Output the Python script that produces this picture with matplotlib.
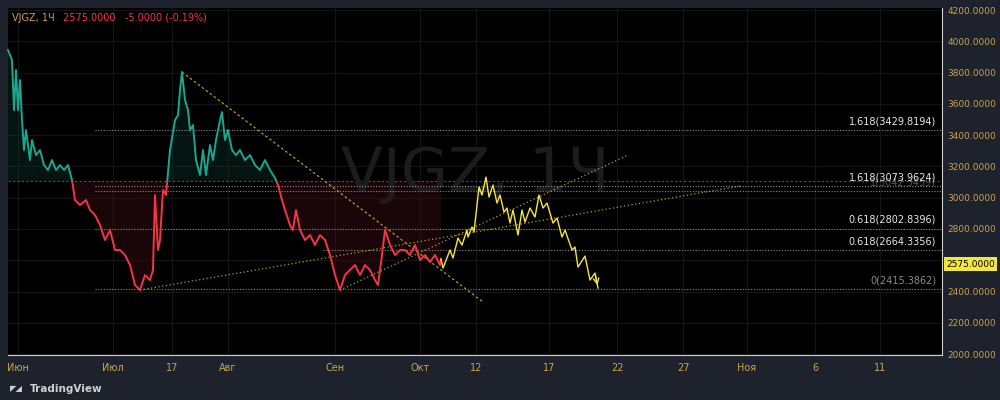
import matplotlib
matplotlib.use("Agg")
import matplotlib.pyplot as plt
from matplotlib.patches import Rectangle
import numpy as np

def p(y):  # helper to convert read pixel heights to prices
    return 4200 - (y - 10) * 2200 / 344

# price history (x = time position, y read as pixel rows then converted)
hist_x = [8,12,14,16,18,20,22,24,26,30,32,36,40,44,48,52,56,60,64,68,72,75,80,86,90,95,100,105,110,115,120,125,130,135,140,145,150,153,155,158,160,163,166,170,175,178,180,182,185,188,190,193,196,200,203,206,210,213,216,220,222,225,228,232,236,240,245,250,255,260,265,270,275,278,282,285,290,293,296,300,305,310,315,320,325,330,335,340,345,350,355,360,365,370,375,378,382,385,390,395,400,405,410,415,420,425,430,435,440,441]
hist_py = [50,60,110,70,110,80,120,150,130,160,140,155,150,165,170,160,170,165,170,165,180,200,205,200,210,215,225,240,230,250,250,255,265,285,290,275,280,270,195,250,240,190,195,150,120,115,90,72,100,110,130,125,160,175,150,175,145,160,140,120,112,140,130,150,155,150,160,155,165,170,160,170,178,185,200,210,225,230,210,230,240,235,245,235,240,255,275,290,275,270,265,275,265,270,280,285,255,230,245,255,250,250,255,245,260,255,262,255,265,259]
hist_y = [p(v) for v in hist_py]

proj_x = [441,443,450,453,458,462,467,468,472,474,479,482,486,489,493,497,500,504,507,510,513,518,522,525,530,535,539,543,547,553,557,562,565,572,575,578,585,590,595,598]
proj_py = [259,268,250,258,238,245,230,237,227,232,187,195,177,197,185,203,195,212,208,223,210,235,210,222,208,217,195,208,203,223,218,237,230,250,247,267,256,280,273,288]
proj_y = [p(v) for v in proj_py]

baseline = 3105
fib_levels = [3429.8194, 3073.9624, 3042.3459, 2802.8396, 2664.3356, 2415.3862]
fib_labels = ["1.618(3429.8194)", "1.618(3073.9624)", "1(3042.3459)", "0.618(2802.8396)", "0.618(2664.3356)", "0(2415.3862)"]
fib_start = [95, 95, 95, 95, 323, 95]
y_ticks = list(range(2000, 4201, 200))
x_tick_pos = [18,113,172,228,335,420,476,549,617,683,747,815,880]
x_tick_lab = ["Июн","Июл","17","Авг","Сен","Окт","12","17","22","27","Ноя","6","11"]
last_price = 2575.0

fig = plt.figure(figsize=(10,4), dpi=100, facecolor="#1e222d")
ax = fig.add_axes([0.008, 0.1125, 0.934, 0.8675], facecolor="#000000")
ax.set_xlim(8, 942)
ax.set_ylim(1994, 4213)

for t in y_ticks:
    ax.axhline(t, color="#141414", lw=0.8, zorder=0)
for t in x_tick_pos:
    ax.axvline(t, color="#141414", lw=0.8, zorder=0)

hx = np.array(hist_x, float); hy = np.array(hist_y)
ax.fill_between(hx, hy, baseline, where=hy >= baseline, interpolate=True, color="#0e3a32", alpha=0.35, lw=0)
ax.fill_between(hx, hy, baseline, where=hy <= baseline, interpolate=True, color="#3a0d14", alpha=0.45, lw=0)
up_line, = ax.plot(hx, hy, color="#1fa58e", lw=1.4, zorder=3)
dn_line, = ax.plot(hx, hy, color="#f23645", lw=1.4, zorder=3)
r_up = Rectangle((0, baseline), 1000, 3000, transform=ax.transData)
r_dn = Rectangle((0, 0), 1000, baseline, transform=ax.transData)
up_line.set_clip_path(r_up)
dn_line.set_clip_path(r_dn)
ax.axhline(baseline, color="#555555", lw=0.8, ls=(0,(2,2)), zorder=1)

ax.text(475, 3150, "VJGZ, 1Ч", fontsize=44, color="#1c1c1c", ha="center", va="center", zorder=1)

for lv, lab, st in zip(fib_levels, fib_labels, fib_start):
    ax.plot([st, 942], [lv, lv], color="#8a8a8a", lw=0.8, ls=(0,(1,1.5)), zorder=2)
faint = {"1(3042.3459)"}
for lv, lab in zip(fib_levels, fib_labels):
    col = "#555555" if lab in faint else ("#8a8a8a" if lab.startswith("0(") else "#e8e8e8")
    ax.text(936, lv + 25, lab, fontsize=7, color=col, ha="right", va="bottom", zorder=4 if lab not in faint else 3)

ax.plot([182, 483], [p(72), p(302)], color="#b8a020", lw=0.9, ls=(0,(2,2)), zorder=2)
ax.plot([140, 740], [p(290), p(186)], color="#b8a020", lw=0.9, ls=(0,(1,2)), zorder=2)
ax.plot([340, 628], [p(290), p(155)], color="#b8a020", lw=0.9, ls=(0,(1,2)), zorder=2)

ax.plot(proj_x, proj_y, color="#f5e63c", lw=1.0, zorder=4)
ax.annotate("", xy=(proj_x[-1], proj_y[-1]), xytext=(proj_x[-2], proj_y[-2]),
            arrowprops=dict(arrowstyle="->", color="#f5e63c", lw=1.0))

ax.yaxis.tick_right()
ax.set_yticks(y_ticks)
ax.set_yticklabels([f"{t:.4f}" for t in y_ticks], fontsize=6.5, color="#c9a24a")
ax.set_xticks(x_tick_pos)
ax.set_xticklabels(x_tick_lab, fontsize=7, color="#c9a24a")
ax.tick_params(axis="y", length=0, pad=4)
ax.tick_params(axis="x", length=0, pad=6)
for s in ["top", "left"]:
    ax.spines[s].set_visible(False)
ax.spines["right"].set_color("#d0d0d0"); ax.spines["right"].set_linewidth(0.8)
ax.spines["bottom"].set_color("#d0d0d0"); ax.spines["bottom"].set_linewidth(0.8)

ax.text(946, last_price, f"{last_price:.4f}", fontsize=6.5, color="#000",
        ha="left", va="center", clip_on=False, zorder=6,
        bbox=dict(boxstyle="square,pad=0.25", fc="#f5e63c", ec="none"))

fig.text(0.012, 0.955, "VJGZ, 1Ч", fontsize=7, color="#c9a24a", va="center")
fig.text(0.063, 0.955, "2575.0000   -5.0000 (-0.19%)", fontsize=7, color="#f23645", va="center")
fig.text(0.03, 0.028, "TradingView", fontsize=7.5, color="#d0d0d0", va="center", weight="bold")
fig.text(0.01, 0.028, "◤◢", fontsize=6, color="#d0d0d0", va="center")

fig.savefig("out.png", dpi=100, facecolor=fig.get_facecolor())
